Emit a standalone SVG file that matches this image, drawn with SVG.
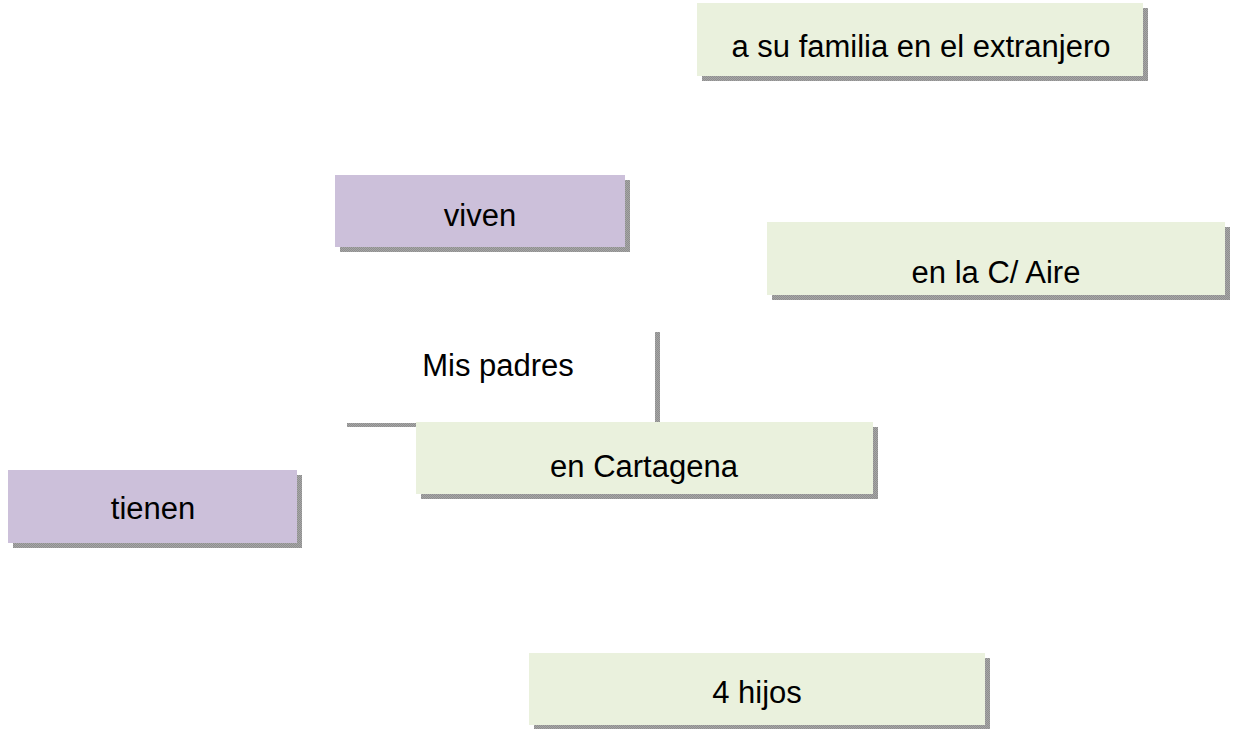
<svg xmlns="http://www.w3.org/2000/svg" width="1234" height="729" viewBox="0 0 1234 729">
<defs>
<pattern id="dots" width="2" height="2" patternUnits="userSpaceOnUse">
<rect width="2" height="2" fill="#a6a6a6"/>
<rect width="1" height="1" fill="#8f8f8f"/>
<rect x="1" y="1" width="1" height="1" fill="#8f8f8f"/>
</pattern>
</defs>
<style>
.shadow{fill:url(#dots);}
.green{fill:#EAF1DD;}
.purple{fill:#CCC0DA;}
.white{fill:#ffffff;}
text{font-family:"Liberation Sans",Arial,sans-serif;font-size:31px;fill:#000;text-anchor:middle;}
</style>
<rect width="1234" height="729" fill="#ffffff"/>
<g id="connectors"></g>
<g id="node-familia">
<rect class="shadow" x="702" y="8" width="446" height="73"/>
<rect class="green" x="697" y="3" width="446" height="73"/>
<text x="921" y="57">a su familia en el extranjero</text>
</g>
<g id="node-viven">
<rect class="shadow" x="340" y="180" width="290" height="72"/>
<rect class="purple" x="335" y="175" width="290" height="72"/>
<text x="480" y="226">viven</text>
</g>
<g id="node-aire">
<rect class="shadow" x="772" y="227" width="458" height="73"/>
<rect class="green" x="767" y="222" width="458" height="73"/>
<text x="996" y="283">en la C/ Aire</text>
</g>
<g id="node-mis-padres">
<rect class="shadow" x="347" y="332" width="313" height="95"/>
<rect class="white" x="342" y="327" width="313" height="96"/>
<text x="498" y="376">Mis padres</text>
</g>
<g id="node-cartagena">
<rect class="shadow" x="421" y="427" width="457" height="72"/>
<rect class="green" x="416" y="422" width="457" height="72"/>
<text x="644" y="477">en Cartagena</text>
</g>
<g id="node-tienen">
<rect class="shadow" x="13" y="475" width="289" height="73"/>
<rect class="purple" x="8" y="470" width="289" height="73"/>
<text x="153" y="519">tienen</text>
</g>
<g id="node-hijos">
<rect class="shadow" x="534" y="658" width="456" height="72"/>
<rect class="green" x="529" y="653" width="456" height="72"/>
<text x="757" y="703">4 hijos</text>
</g>
</svg>
